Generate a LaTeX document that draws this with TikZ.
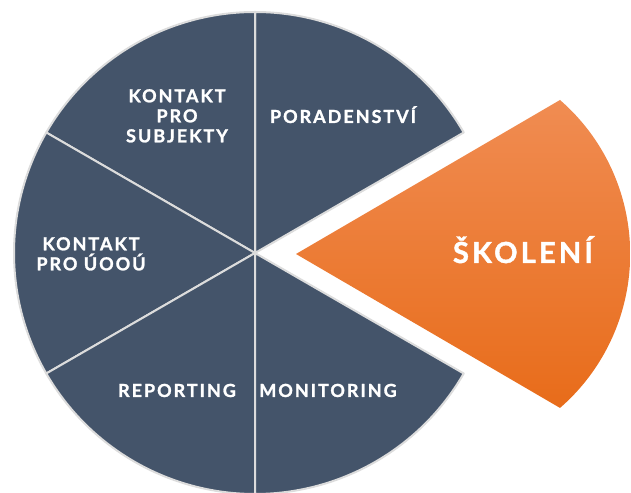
\documentclass[tikz,border=0pt]{standalone}
\usepackage{fontspec}
\setmainfont{Lato}[BoldFeatures={FakeBold=1.3, LetterSpace=11}]
\usepackage{xcolor}
\usetikzlibrary{positioning}

\definecolor{slate}{HTML}{44546A}
\definecolor{rim}{HTML}{DCDCDC}
\definecolor{orangetop}{HTML}{F08C52}
\definecolor{orangemid}{HTML}{F47E2C}
\definecolor{orangebot}{HTML}{E86C1A}

\begin{document}
\begin{tikzpicture}[x=1pt, y=1pt,
    slice/.style={fill=slate, draw=rim, line width=2pt, line join=round},
    lbl/.style={text=white, inner sep=0pt, align=center,
      font=\bfseries\fontsize{18}{20}\selectfont},
    biglbl/.style={text=white, inner sep=0pt,
      font=\bfseries\fontsize{29}{31}\selectfont}]
    \useasboundingbox (0,0) rectangle (631,492);
    \coordinate (c) at (255,239);
    \coordinate (tip) at (296,238);

    % the five dark slices
    \begin{scope}
      \clip (0,0) rectangle (631,492);
      \foreach \a in {30,90,150,210,270}
        \draw[slice] (c) -- ++(\a:241) arc[start angle=\a, end angle=\a+60, radius=241] -- cycle;
    \end{scope}

    % the pulled-out slice
    \shade[top color=orangetop, middle color=orangemid, bottom color=orangebot]
      (tip) -- (560,392) arc[start angle=49, end angle=-49, radius=204] -- cycle;

    % labels
    \node[lbl, anchor=north] (subj) at (177,403) {KONTAKT\\PRO\\SUBJEKTY};
    \node[lbl, anchor=base] (porad) at (343,369) {PORADENSTVÍ};
    \node[lbl, anchor=north] (uoou) at (91,255) {KONTAKT\\PRO ÚOOÚ};
    \node[lbl, anchor=base] (report) at (177,95) {REPORTING};
    \node[lbl, anchor=base] (monit) at (328,95) {MONITORING};
    \node[biglbl, anchor=base] (skol) at (523,229) {ŠKOLENÍ};
\end{tikzpicture}
\end{document}
